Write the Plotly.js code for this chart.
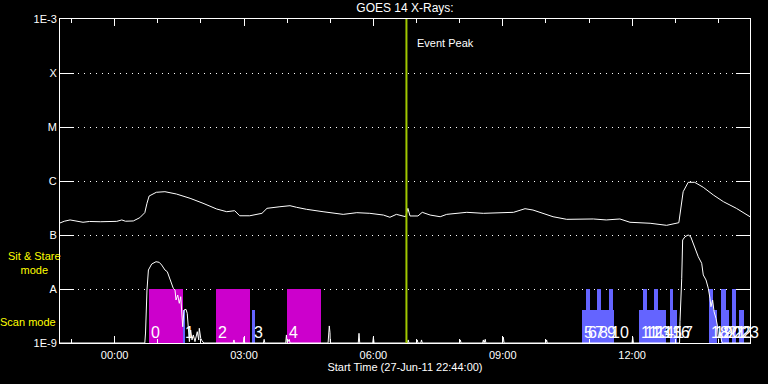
<!DOCTYPE html>
<html><head><meta charset="utf-8">
<script src="https://cdn.plot.ly/plotly-3.0.1.min.js"></script>
<style>html,body{margin:0;padding:0;background:#000;}#chart{width:768px;height:384px;}</style>
</head><body><div id="chart"></div>
<script>
// GOES 14 long channel (1-8 A)
const longTime = ['2011-06-27 22:44','2011-06-27 22:50','2011-06-27 22:58','2011-06-27 23:05','2011-06-27 23:16','2011-06-27 23:25','2011-06-27 23:40',
 '2011-06-28 00:03','2011-06-28 00:10','2011-06-28 00:15','2011-06-28 00:26','2011-06-28 00:35','2011-06-28 00:42','2011-06-28 00:45','2011-06-28 00:48',
 '2011-06-28 00:58','2011-06-28 01:10','2011-06-28 01:26','2011-06-28 01:45','2011-06-28 02:03','2011-06-28 02:22','2011-06-28 02:36','2011-06-28 02:47',
 '2011-06-28 02:54','2011-06-28 03:08','2011-06-28 03:25','2011-06-28 03:32','2011-06-28 03:50','2011-06-28 04:04','2011-06-28 04:13','2011-06-28 04:27',
 '2011-06-28 04:50','2011-06-28 05:18','2011-06-28 05:37','2011-06-28 05:55','2011-06-28 06:14','2011-06-28 06:23','2011-06-28 06:32','2011-06-28 06:45',
 '2011-06-28 06:48','2011-06-28 06:51','2011-06-28 07:02','2011-06-28 07:08','2011-06-28 07:19','2011-06-28 07:33','2011-06-28 07:42','2011-06-28 08:10',
 '2011-06-28 08:33','2011-06-28 09:15','2011-06-28 09:31','2011-06-28 09:42','2011-06-28 10:10','2011-06-28 10:29','2011-06-28 11:06','2011-06-28 11:24',
 '2011-06-28 11:43','2011-06-28 11:57','2011-06-28 12:25','2011-06-28 12:48','2011-06-28 13:05','2011-06-28 13:08','2011-06-28 13:11','2011-06-28 13:18',
 '2011-06-28 13:27','2011-06-28 13:39','2011-06-28 13:53','2011-06-28 14:07','2011-06-28 14:25','2011-06-28 14:44'];
const longFlux = [1.67e-7,1.80e-7,1.90e-7,1.84e-7,1.72e-7,1.78e-7,1.76e-7,
 1.79e-7,1.90e-7,1.80e-7,1.82e-7,2.09e-7,2.59e-7,3.87e-7,5.27e-7,
 6.18e-7,6.34e-7,5.74e-7,4.78e-7,3.87e-7,3.03e-7,2.70e-7,2.82e-7,
 2.27e-7,2.27e-7,2.52e-7,3.12e-7,3.34e-7,3.49e-7,3.26e-7,2.99e-7,
 2.70e-7,2.41e-7,2.59e-7,2.52e-7,2.34e-7,2.13e-7,2.41e-7,2.18e-7,
 3.12e-7,2.25e-7,2.25e-7,2.63e-7,2.34e-7,2.18e-7,2.41e-7,2.63e-7,
 2.52e-7,2.63e-7,3.07e-7,2.90e-7,2.18e-7,1.95e-7,1.98e-7,1.90e-7,
 1.98e-7,1.72e-7,1.65e-7,1.51e-7,1.69e-7,3.34e-7,6.34e-7,9.46e-7,
 9.46e-7,7.64e-7,5.51e-7,4.14e-7,3.12e-7,2.18e-7];

// GOES 14 short channel (0.5-4 A)
const shortTime = ['2011-06-27 22:44','2011-06-28 00:42','2011-06-28 00:43','2011-06-28 00:45','2011-06-28 00:47','2011-06-28 00:51:36','2011-06-28 00:57:36',
 '2011-06-28 01:02','2011-06-28 01:05:30','2011-06-28 01:10','2011-06-28 01:13:18','2011-06-28 01:16','2011-06-28 01:19:24','2011-06-28 01:21:36',
 '2011-06-28 01:24','2011-06-28 01:25:24','2011-06-28 01:27:48','2011-06-28 01:30','2011-06-28 01:32','2011-06-28 01:33:18','2011-06-28 01:34:42',
 '2011-06-28 01:36:30','2011-06-28 01:39:18','2011-06-28 01:41','2011-06-28 01:42:30','2011-06-28 01:44','2011-06-28 01:45:48','2011-06-28 01:47:42',
 '2011-06-28 01:49:30','2011-06-28 01:51:48','2011-06-28 01:55','2011-06-28 01:57','2011-06-28 01:57:48','2011-06-28 01:59:48','2011-06-28 02:01:36',
 '2011-06-28 02:04',
 '2011-06-28 02:45','2011-06-28 02:46','2011-06-28 02:47',
 '2011-06-28 02:59','2011-06-28 03:00','2011-06-28 03:01',
 '2011-06-28 03:27','2011-06-28 03:28','2011-06-28 03:29',
 '2011-06-28 03:58','2011-06-28 03:59','2011-06-28 04:00','2011-06-28 04:03','2011-06-28 04:04',
 '2011-06-28 04:57','2011-06-28 04:57:30','2011-06-28 04:58:40','2011-06-28 04:59:40','2011-06-28 05:00',
 '2011-06-28 05:39','2011-06-28 05:40','2011-06-28 05:41',
 '2011-06-28 05:59','2011-06-28 06:00','2011-06-28 06:01',
 '2011-06-28 06:47:30','2011-06-28 06:48:30','2011-06-28 06:49:30',
 '2011-06-28 07:00','2011-06-28 07:01','2011-06-28 07:02',
 '2011-06-28 07:06','2011-06-28 07:07','2011-06-28 07:08',
 '2011-06-28 08:00','2011-06-28 08:01','2011-06-28 08:02',
 '2011-06-28 08:32','2011-06-28 08:33','2011-06-28 08:34','2011-06-28 08:35:40','2011-06-28 08:36:30',
 '2011-06-28 08:59:50','2011-06-28 09:00:50','2011-06-28 09:01:50',
 '2011-06-28 10:00','2011-06-28 10:01','2011-06-28 10:02',
 '2011-06-28 11:59:50','2011-06-28 12:00:50','2011-06-28 12:01:50',
 '2011-06-28 13:06','2011-06-28 13:06:36','2011-06-28 13:09','2011-06-28 13:10:18','2011-06-28 13:13:36','2011-06-28 13:18','2011-06-28 13:21:30',
 '2011-06-28 13:25','2011-06-28 13:28:54','2011-06-28 13:32','2011-06-28 13:36:48','2011-06-28 13:39','2011-06-28 13:42:48','2011-06-28 13:46',
 '2011-06-28 13:48:18','2011-06-28 13:49:42','2011-06-28 13:52','2011-06-28 13:54','2011-06-28 13:56:42','2011-06-28 13:58:30','2011-06-28 13:59:54',
 '2011-06-28 14:02:18','2011-06-28 14:04:36','2011-06-28 14:07','2011-06-28 14:44'];
const shortFlux = [1e-9,1e-9,1.53e-9,9.57e-9,2.25e-8,2.90e-8,3.20e-8,
 3.12e-8,2.78e-8,2.25e-8,2.09e-8,1.69e-8,1.28e-8,1.03e-8,
 9.57e-9,6.25e-9,7.74e-9,5.43e-9,7.20e-9,3.07e-9,2.00e-9,
 4.08e-9,4.21e-9,3.55e-9,1.74e-9,1.06e-9,1.74e-9,1.14e-9,
 1.41e-9,1.06e-9,1.62e-9,1.14e-9,1.87e-9,1.22e-9,1.10e-9,
 1e-9,
 1e-9,1.14e-9,1e-9,
 1e-9,1.28e-9,1e-9,
 1e-9,1.17e-9,1e-9,
 1e-9,1.41e-9,1e-9,1.17e-9,1e-9,
 1e-9,1.55e-9,2.07e-9,1.55e-9,1e-9,
 1e-9,1.51e-9,1e-9,
 1e-9,1.28e-9,1e-9,
 1e-9,1.14e-9,1e-9,
 1e-9,1.14e-9,1e-9,
 1e-9,1.14e-9,1e-9,
 1e-9,1.14e-9,1e-9,
 1e-9,1.14e-9,1e-9,1.17e-9,1e-9,
 1e-9,1.28e-9,1e-9,
 1e-9,1.14e-9,1e-9,
 1e-9,1.28e-9,1e-9,
 1e-9,2.48e-9,1.58e-8,8.07e-8,9.30e-8,1.00e-7,9.30e-8,
 7.02e-8,5.27e-8,3.96e-8,2.99e-8,1.82e-8,1.47e-8,1.03e-8,
 6.73e-9,4.70e-9,6.25e-9,3.80e-9,2.86e-9,2.15e-9,1.22e-9,
 1.62e-9,1.06e-9,1e-9,1e-9];

// Sit & Stare observations
const sitStart = ['2011-06-28 00:48','2011-06-28 02:21','2011-06-28 04:00'];
const sitEnd   = ['2011-06-28 01:35','2011-06-28 03:09','2011-06-28 04:47'];
const sitTop   = [1e-8,1e-8,1e-8];
const sitLabel = ['0','2','4'];

// Scan mode observations
const scanStart = ['2011-06-28 01:35','2011-06-28 03:11','2011-06-28 10:50','2011-06-28 10:56','2011-06-28 11:06','2011-06-28 11:11',
 '2011-06-28 11:22','2011-06-28 11:28','2011-06-28 12:09','2011-06-28 12:15','2011-06-28 12:25','2011-06-28 12:30','2011-06-28 12:41',
 '2011-06-28 12:52','2011-06-28 12:57','2011-06-28 13:47','2011-06-28 13:53','2011-06-28 14:04','2011-06-28 14:10','2011-06-28 14:19','2011-06-28 14:28'];
const scanEnd = ['2011-06-28 01:38','2011-06-28 03:15','2011-06-28 11:06','2011-06-28 11:01','2011-06-28 11:22','2011-06-28 11:16',
 '2011-06-28 11:35','2011-06-28 11:34','2011-06-28 12:25','2011-06-28 12:20','2011-06-28 12:41','2011-06-28 12:36','2011-06-28 12:47',
 '2011-06-28 12:57','2011-06-28 13:02','2011-06-28 13:53','2011-06-28 13:58','2011-06-28 14:10','2011-06-28 14:15','2011-06-28 14:24','2011-06-28 14:35'];
const scanTop = [4e-9,4e-9,4e-9,1e-8,4e-9,1e-8,4e-9,1e-8,4e-9,1e-8,4e-9,1e-8,4e-9,1e-8,4e-9,1e-8,4e-9,1e-8,4e-9,1e-8,4e-9];
const scanLabel = ['1','3','5','6','7','8','9','10','11','12','13','14','15','16','17','18','19','20','21','22','23'];

const peakTime = '2011-06-28 06:46';
const yTickVals = [1e-9,1e-8,1e-7,1e-6,1e-5,1e-4,1e-3];
const yTickText = ['1E-9','A','B','C','M','X','1E-3'];
const xRange = ['2011-06-27 22:44','2011-06-28 14:44'];
const yBottom = 1e-9, yTopLim = 1e-3;

const toMs = s => Date.parse(s.replace(' ','T')+'Z');
const fromMs = ms => new Date(ms).toISOString().slice(0,19).replace('T',' ');
function barTrace(starts, ends, tops, color){
  return {type:'bar', x: starts.map((s,i)=>fromMs((toMs(s)+toMs(ends[i]))/2)),
    width: starts.map((s,i)=>toMs(ends[i])-toMs(s)),
    base: starts.map(()=>yBottom), y: tops.map(t=>t-yBottom),
    marker:{color:color, line:{width:0}}, hoverinfo:'skip', showlegend:false};
}
const F = 'Liberation Sans, Arial, sans-serif';
const traces = [
  barTrace(sitStart, sitEnd, sitTop, '#cc00cc'),
  barTrace(scanStart, scanEnd, scanTop, '#6464ff'),
  {type:'scatter', mode:'lines', x:longTime, y:longFlux, line:{color:'#ffffff', width:1}, showlegend:false},
  {type:'scatter', mode:'lines', x:shortTime, y:shortFlux, line:{color:'#ffffff', width:1}, showlegend:false},
  {type:'scatter', mode:'lines', x:[peakTime,peakTime], y:[yBottom,yTopLim], line:{color:'#a0c800', width:2}, showlegend:false}
];
const ann = [];
sitStart.forEach((s,i)=>ann.push({x:s, y:-9, xref:'x', yref:'y', text:sitLabel[i], showarrow:false, xanchor:'left', yanchor:'bottom', font:{family:F, size:16, color:'#ffffff'}}));
scanStart.forEach((s,i)=>ann.push({x:s, y:-9, xref:'x', yref:'y', text:scanLabel[i], showarrow:false, xanchor:'left', yanchor:'bottom', font:{family:F, size:16, color:'#ffffff'}}));
ann.push({x:peakTime, y:-3.444, xref:'x', yref:'y', text:'Event Peak', showarrow:false, xanchor:'left', yanchor:'middle', xshift:9, font:{family:F, size:11, color:'#ffffff'}});
ann.push({x:-0.0374, y:-7.52, xref:'paper', yref:'y', text:'Sit & Stare<br>mode', showarrow:false, xanchor:'center', yanchor:'middle', font:{family:F, size:11, color:'#ffff00'}});
ann.push({x:-0.046, y:-8.61, xref:'paper', yref:'y', text:'Scan mode', showarrow:false, xanchor:'center', yanchor:'middle', font:{family:F, size:11, color:'#ffff00'}});

const layout = {
  width:768, height:384, paper_bgcolor:'#000', plot_bgcolor:'#000',
  margin:{l:60, r:18, t:19, b:41}, barmode:'overlay', bargap:0, showlegend:false,
  title:{text:'GOES 14 X-Rays:', x:0.5, xref:'paper', y:0.979, yref:'container', yanchor:'middle', font:{family:F, size:12, color:'#ffffff'}},
  xaxis:{type:'date', range:xRange, tick0:'2011-06-28 00:00', dtick:10800000, tickformat:'%H:%M',
    ticks:'inside', ticklen:7, tickcolor:'#fff', tickwidth:1, showline:true, linecolor:'#fff', linewidth:1, mirror:'allticks',
    showgrid:false, zeroline:false, tickfont:{family:F, size:11, color:'#fff'}, ticklabelstandoff:2,
    minor:{dtick:3600000, tick0:'2011-06-28 00:00', ticks:'inside', ticklen:4, tickcolor:'#fff', tickwidth:1, showgrid:false},
    title:{text:'Start Time (27-Jun-11 22:44:00)', font:{family:F, size:11, color:'#fff'}, standoff:2}},
  yaxis:{type:'log', range:[-9,-3], tickvals:yTickVals, ticktext:yTickText,
    ticks:'inside', ticklen:14, tickcolor:'#fff', tickwidth:1, showline:true, linecolor:'#fff', linewidth:1, mirror:'allticks',
    showgrid:true, gridcolor:'#fff', gridwidth:1, griddash:'1px,5px', zeroline:false,
    tickfont:{family:F, size:11, color:'#fff'}},
  annotations:ann
};
Plotly.newPlot('chart', traces, layout, {staticPlot:true, displayModeBar:false});
</script></body></html>
